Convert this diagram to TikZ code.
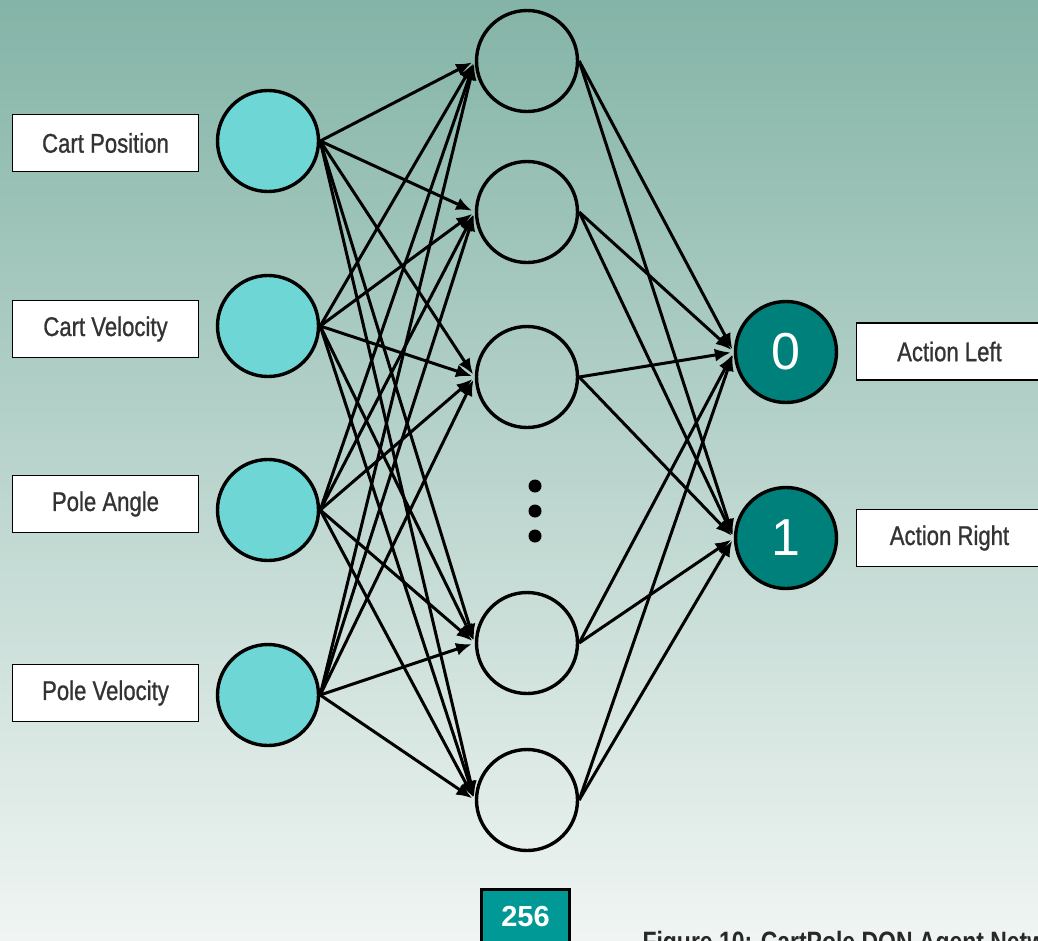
\documentclass[tikz,border=0pt]{standalone}
\usepackage{fontspec}
\setmainfont{Liberation Sans}
\newfontfamily\labelfont{Liberation Sans}[FakeStretch=0.82,FakeBold=0.9]
\newfontfamily\capfont{Liberation Sans}[FakeStretch=0.82]
\usetikzlibrary{arrows.meta}
\definecolor{bgtop}{RGB}{132,180,167}
\definecolor{bgbot}{RGB}{240,245,243}
\definecolor{infill}{RGB}{111,214,214}
\definecolor{outfill}{RGB}{0,128,122}
\definecolor{countfill}{RGB}{0,153,150}
\definecolor{labeltext}{RGB}{51,51,51}
\definecolor{captext}{RGB}{40,40,40}
\begin{document}
\begin{tikzpicture}[x=1pt,y=-1pt,
  neuron/.style={circle, draw=black, line width=3.4pt, minimum size=101pt, inner sep=0pt},
  innode/.style={neuron, fill=infill},
  hidnode/.style={neuron},
  outnode/.style={neuron, fill=outfill, text=white, font=\fontsize{52}{52}\selectfont},
  tag/.style={rectangle, draw=black, line width=1.8pt, fill=white,
    minimum width=186pt, minimum height=57pt, inner sep=0pt,
    text=labeltext, font=\labelfont\fontsize{27}{27}\selectfont},
  countbox/.style={rectangle, draw=black, line width=3pt, fill=countfill,
    minimum width=88pt, minimum height=56pt, inner sep=0pt,
    text=white, font=\bfseries\fontsize{29}{29}\selectfont},
  link/.style={line width=3pt, shorten >=3pt, -{Latex[length=16pt,width=13pt]}},
  dotmark/.style={circle, fill=black, minimum size=13pt, inner sep=0pt}
]
% page frame and background
\useasboundingbox (0,0) rectangle (1038,940);
\clip (0,0) rectangle (1038,940);
\shade[top color=bgtop, bottom color=bgbot] (0,0) rectangle (1038,940);

% input labels
\node[tag] (lcp) at (105.5,143) {Cart Position};
\node[tag] (lcv) at (105.5,329) {Cart Velocity};
\node[tag] (lpa) at (105.5,504) {Pole Angle};
\node[tag] (lpv) at (105.5,693) {Pole Velocity};

% input layer
\node[innode] (in1) at (268,141) {};
\node[innode] (in2) at (268,326) {};
\node[innode] (in3) at (268,510) {};
\node[innode] (in4) at (268,695) {};

% hidden layer
\node[hidnode] (hid1) at (527,61) {};
\node[hidnode] (hid2) at (527,212) {};
\node[hidnode] (hid3) at (527,377) {};
\node[hidnode] (hid4) at (527,643) {};
\node[hidnode] (hid5) at (527,800) {};
\node[dotmark] (d1) at (535,486) {};
\node[dotmark] (d2) at (535,511) {};
\node[dotmark] (d3) at (535,536) {};

% output layer
\node[outnode] (out1) at (786,352) {0};
\node[outnode] (out2) at (786,538) {1};

% output labels
\node[tag] (lal) at (949.5,351.5) {Action Left};
\node[tag] (lar) at (949.5,538) {Action Right};

% hidden layer size and caption
\node[countbox] (cnt) at (525.5,917) {256};
\node[anchor=base west, text=captext, font=\capfont\bfseries\fontsize{28}{28}\selectfont]
  (cap) at (639,951) {Figure 10: CartPole DQN Agent Network};

% connections
\foreach \i in {1,...,4}
  \foreach \h in {1,...,5}
    \draw[link] (in\i.east) -- (hid\h.west);
\foreach \h in {1,...,5}
  \foreach \o in {1,2}
    \draw[link] (hid\h.east) -- (out\o.west);
\end{tikzpicture}
\end{document}
